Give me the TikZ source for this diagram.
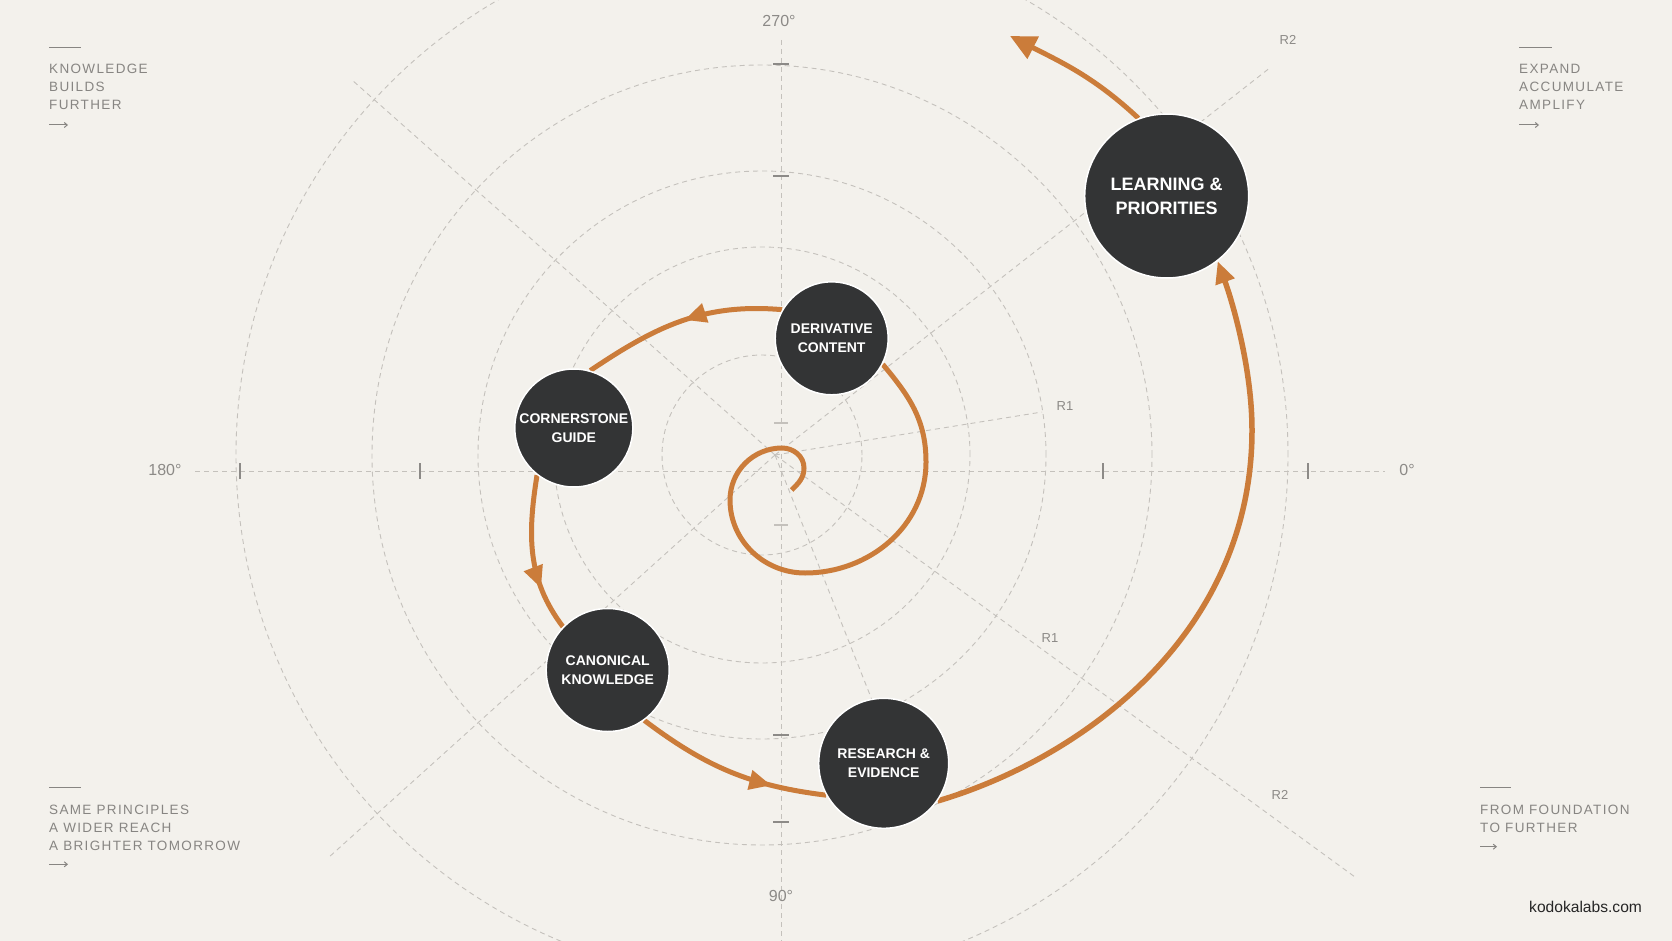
\documentclass[tikz,border=0pt]{standalone}
\usepackage{fontspec}
\setmainfont{Liberation Sans}
\newfontfamily\spacedfont[LetterSpace=10.0]{Liberation Sans}
\usetikzlibrary{arrows.meta,decorations.markings,backgrounds}

\definecolor{paper}{RGB}{243,241,236}
\definecolor{gridc}{RGB}{196,193,188}
\definecolor{tickc}{RGB}{140,138,135}
\definecolor{textc}{RGB}{135,133,130}
\definecolor{flowc}{RGB}{203,124,58}
\definecolor{nodec}{RGB}{51,52,53}

\tikzset{
  guide/.style={draw=gridc, line width=0.9pt, dash pattern=on 5pt off 4pt},
  tickmark/.style={draw=tickc, line width=1.1pt},
  flow/.style={color=flowc, line width=5pt},
  midarrow/.style={postaction={decorate, decoration={markings,
      mark=at position #1 with {\arrow{Triangle[length=22pt,width=19pt]}}}}},
  stage/.style={circle, fill=nodec, draw=white, line width=1.5pt, minimum size=#1,
      inner sep=0pt, text=white, align=center, font=\bfseries\fontsize{14}{19}\selectfont},
  corner/.style={anchor=base west, inner sep=0pt, text=textc,
      font=\spacedfont\fontsize{13.5}{18}\selectfont},
  cornerrule/.style={draw=textc, line width=1.2pt},
  axislabel/.style={text=tickc, font=\fontsize{16}{18}\selectfont},
  rlabel/.style={text=tickc, font=\fontsize{13}{15}\selectfont},
}

\begin{document}
\begin{tikzpicture}[x=1pt, y=-1pt]
    \useasboundingbox (0,0) rectangle (1672,941);

    \begin{scope}[on background layer]
        % Paper
        \fill[paper] (0,0) rectangle (1672,941);
        % Polar guide circles
        \foreach \r in {100,208,284,390,526}
            \draw[guide] (762,455) circle[radius=\r*1pt];
        % Radial guide lines
        \foreach \x/\y in {352/80, 1271/67, 328/858, 1355/877, 1042/412, 872/700}
            \draw[guide] (775,455) -- (\x,\y);
        % Axes
        \draw[guide] (195,471) -- (1385,471);
        \draw[guide] (781,40) -- (781,941);
        % Ticks on the axes
        \foreach \x in {240,420,1103,1308}
            \draw[tickmark] (\x,463) -- (\x,479);
        \foreach \y in {64,176,735,822}
            \draw[tickmark] (773,\y) -- (789,\y);
        \foreach \y in {423,525}
            \draw[tickmark, draw=gridc] (774,\y) -- (788,\y);
    \end{scope}

    % Axis and radius labels
    \node[axislabel] (lab270) at (779,21) {270°};
    \node[axislabel] (lab0) at (1407,470) {0°};
    \node[axislabel] (lab180) at (165,470) {180°};
    \node[axislabel] (lab90) at (781,896) {90°};
    \node[rlabel] (r1a) at (1065,406) {R1};
    \node[rlabel] (r1b) at (1050,638) {R1};
    \node[rlabel] (r2a) at (1288,40) {R2};
    \node[rlabel] (r2b) at (1280,795) {R2};

    % Stages on the spiral
    \node[stage=113pt] (derivative) at (831.7,338.3) {DERIVATIVE\\CONTENT};
    \node[stage=118pt] (cornerstone) at (573.8,428) {CORNERSTONE\\GUIDE};
    \node[stage=123pt] (canonical) at (607.7,670) {CANONICAL\\KNOWLEDGE};
    \node[stage=130pt] (research) at (883.7,763.3) {RESEARCH \&\\EVIDENCE};
    \node[stage=164pt, font=\bfseries\fontsize{18}{24}\selectfont] (learning)
        at (1166.7,196) {LEARNING \&\\PRIORITIES};
    \coordinate (seed) at (791.7,490);
    \coordinate (outlet) at (1010,36);

    % The spiral, behind the stages
    \begin{scope}[on background layer]
        \draw[flow] (seed) to[out=45, in=-90] (804,468) to[out=90, in=0] (782,448)
            to[out=180, in=90] (730,500) to[out=-90, in=180] (805,573)
            to[out=0, in=-90] (926,462) to[out=90, in=-50] (derivative.-27);
        \draw[flow, midarrow=0.48] (derivative.150) to[out=175, in=34] (cornerstone.74);
        \draw[flow, midarrow=0.72] (cornerstone.-128) to[out=261, in=127] (canonical.136);
        \draw[flow, midarrow=0.72] (canonical.-54) to[out=-37, in=173] (research.-151);
        \draw[flow, line width=5.5pt, -{Triangle[length=22pt,width=19pt]}]
            (research.-35) .. controls (1084.7,757.5) and (1252,632.5) .. (1252,430)
            .. controls (1252,370) and (1233.3,304.3) .. (learning.-52);
        \draw[flow, -{Triangle[length=26pt,width=24pt]}]
            (learning.110) to[out=137, in=-27] (outlet);
    \end{scope}

    % Corner notes
    \draw[cornerrule] (49,47.3) -- (81,47.3);
    \foreach \t [count=\i] in {KNOWLEDGE, BUILDS, FURTHER}
        \node[corner] (tl\i) at (49, 56+18*\i) {\t};
    \draw[cornerrule, line width=1pt, -{Straight Barb[length=3pt,width=5pt]}] (49,125) -- (68,125);

    \draw[cornerrule] (1519,47.3) -- (1552,47.3);
    \foreach \t [count=\i] in {EXPAND, ACCUMULATE, AMPLIFY}
        \node[corner] (tr\i) at (1519, 56+18*\i) {\t};
    \draw[cornerrule, line width=1pt, -{Straight Barb[length=3pt,width=5pt]}] (1519,125) -- (1539,125);

    \draw[cornerrule] (49,787.3) -- (81,787.3);
    \foreach \t [count=\i] in {SAME PRINCIPLES, A WIDER REACH, A BRIGHTER TOMORROW}
        \node[corner] (bl\i) at (49, 796+18*\i) {\t};
    \draw[cornerrule, line width=1pt, -{Straight Barb[length=3pt,width=5pt]}] (49,864.3) -- (68,864.3);

    \draw[cornerrule] (1480,787.3) -- (1511,787.3);
    \foreach \t [count=\i] in {FROM FOUNDATION, TO FURTHER}
        \node[corner] (br\i) at (1480, 796+18*\i) {\t};
    \draw[cornerrule, line width=1pt, -{Straight Barb[length=3pt,width=5pt]}] (1480,846.7) -- (1497,846.7);

    \node[anchor=base west, inner sep=0pt, text=black!85, font=\fontsize{15.6}{18}\selectfont]
        (site) at (1529,912.5) {kodokalabs.com};
\end{tikzpicture}
\end{document}
